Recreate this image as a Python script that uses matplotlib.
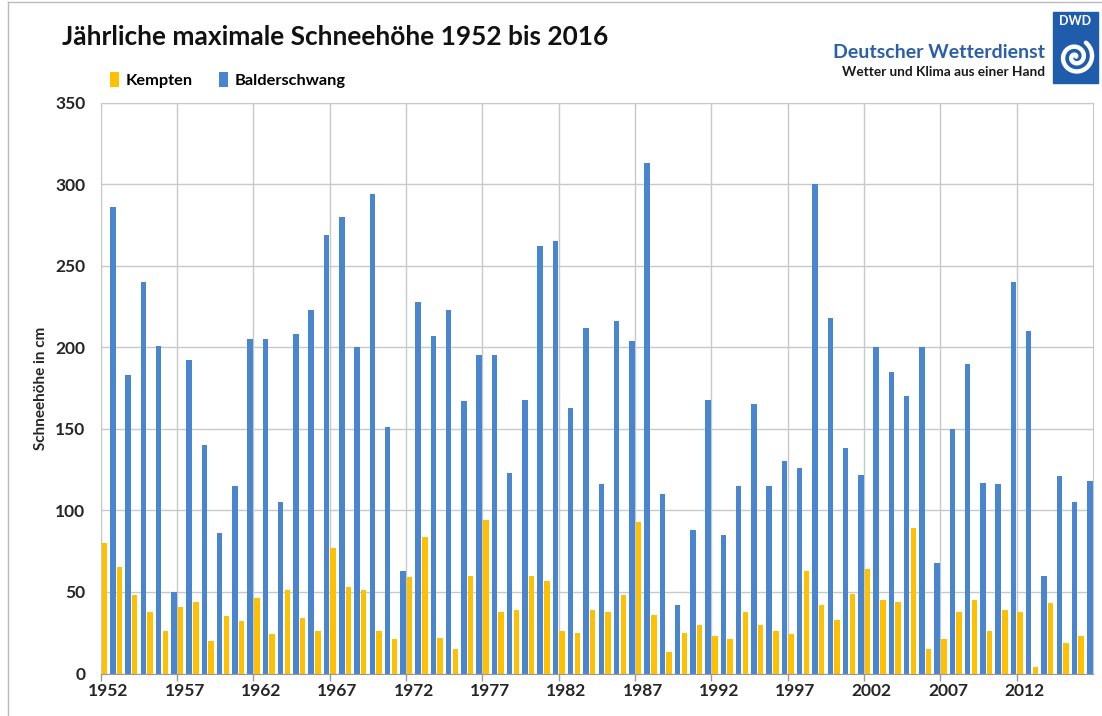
import numpy as np
from matplotlib import pyplot as plt
from matplotlib.patches import Rectangle

plt.rcParams['font.family'] = ['Lato', 'DejaVu Sans']

## Jahre (Kategorien) und maximale Schneehoehe in cm
years = np.arange(1952, 2017)
kempten = [80, 65, 48, 38, 26, 41, 44, 20, 35, 32,
           46, 24, 51, 34, 26, 77, 53, 51, 26, 21,
           59, 84, 22, 15, 60, 94, 38, 39, 60, 57,
           26, 25, 39, 38, 48, 93, 36, 13, 25, 30,
           23, 21, 38, 30, 26, 24, 63, 42, 33, 49,
           64, 45, 44, 89, 15, 21, 38, 45, 26, 39,
           38, 4, 43, 19, 23]
balderschwang = [286, 183, 240, 201, 50, 192, 140, 86, 115, 205,
                 205, 105, 208, 223, 269, 280, 200, 294, 151, 63,
                 228, 207, 223, 167, 195, 195, 123, 168, 262, 265,
                 163, 212, 116, 216, 204, 313, 110, 42, 88, 168,
                 85, 115, 165, 115, 130, 126, 300, 218, 138, 122,
                 200, 185, 170, 200, 68, 150, 190, 117, 116, 240,
                 210, 60, 121, 105, 118]
yticks = [0, 50, 100, 150, 200, 250, 300, 350]

YELLOW = '#ffc000'
BLUE = '#4a86d0'
GRID = '#c8c8c8'

W, H = 1102, 716
fig = plt.figure(figsize=(W / 100, H / 100), dpi=100)
ax = fig.add_axes([100.7 / W, 1 - 673.5 / H, (1093 - 100.7) / W, (673.5 - 102.7) / H])

x = np.arange(len(years))
ax.bar(x - 0.45, kempten, width=0.36, align='edge', color=YELLOW, label='Kempten')
ax.bar(x + 0.11, balderschwang, width=0.36, align='edge', color=BLUE, label='Balderschwang')

ax.set_xlim(-0.5, len(years) - 0.5)
ax.set_ylim(0, 350)
ax.set_yticks(yticks)
ax.set_yticklabels([str(v) for v in yticks], fontsize=12.5, fontweight='bold', color='#262626')

ax.set_xticks(x[::5])
ax.set_xticklabels([str(y) for y in years[::5]], fontsize=12.5, fontweight='bold', color='#262626')
ax.set_xticks(x[::5] - 0.5, minor=True)
ax.tick_params(axis='x', which='major', length=0, pad=7)
ax.tick_params(axis='x', which='minor', length=5, color='#999999', width=1)
ax.tick_params(axis='y', length=0, pad=11)

ax.set_axisbelow(True)
ax.yaxis.grid(True, color=GRID, lw=1)
ax.xaxis.grid(True, which='minor', color=GRID, lw=1)
for s in ['left', 'right', 'top']:
    ax.spines[s].set_color(GRID)
ax.spines['bottom'].set_color('#999999')

ax.set_ylabel('Schneehöhe in cm', fontsize=11, fontweight='bold', color='#262626', labelpad=5)

# Titel und Legende
fig.text(62 / W, 1 - 37 / H, 'Jährliche maximale Schneehöhe 1952 bis 2016',
         fontsize=18.9, fontweight='bold', va='center', ha='left', color='#111111')
fig.legend(loc='center left', bbox_to_anchor=(95 / W, 1 - 80 / H), ncol=2, frameon=False,
           handlelength=0.55, handleheight=1.0, handletextpad=0.4, columnspacing=1.6,
           prop={'weight': 'bold', 'size': 11.8})

# DWD Logo
fig.text(1045 / W, 1 - 52 / H, 'Deutscher Wetterdienst', fontsize=14, fontweight='bold',
         color='#2b5fa8', ha='right', va='center')
fig.text(1045 / W, 1 - 72 / H, 'Wetter und Klima aus einer Hand', fontsize=9.8, fontweight='bold',
         color='#1a1a1a', ha='right', va='center')
fig.patches.append(Rectangle((1053 / W, 1 - 83 / H), 45 / W, 71 / H, transform=fig.transFigure,
                             color='#1f5cab', zorder=1))
fig.text(1075.5 / W, 1 - 21 / H, 'DWD', fontsize=9, fontweight='bold', color='white',
         ha='center', va='center', zorder=3)
lax = fig.add_axes([1056 / W, 1 - 80 / H, 39 / W, 46 / H], zorder=3)
lax.set_xlim(-1.1, 1.1)
lax.set_ylim(-1.3, 1.3)
lax.axis('off')
t = np.linspace(0.6, 4.3 * np.pi, 300)
r = t / (4.3 * np.pi)
lax.plot(r * np.cos(t), r * np.sin(t), color='white', lw=3.2, solid_capstyle='round')

# Rahmen
fig.add_artist(plt.Line2D([8 / W, 8 / W], [0, 1 - 2 / H], transform=fig.transFigure, color='#bbbbbb', lw=1))
fig.add_artist(plt.Line2D([8 / W, 1], [1 - 2 / H, 1 - 2 / H], transform=fig.transFigure, color='#bbbbbb', lw=1))

plt.savefig('out.png', dpi=100)
